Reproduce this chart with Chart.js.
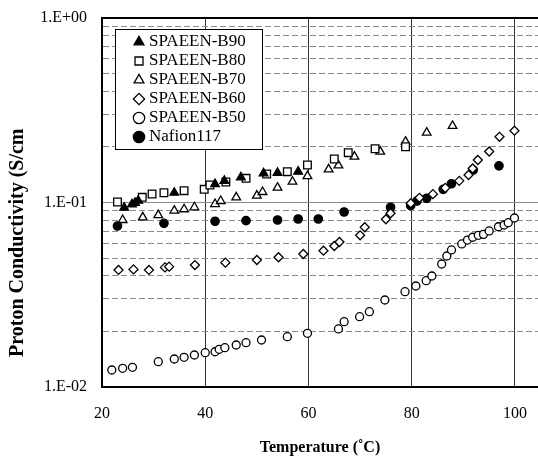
<!DOCTYPE html>
<html><head><meta charset="utf-8">
<script src="https://cdn.jsdelivr.net/npm/chart.js@4"></script>
<style>html,body{margin:0;padding:0;background:#fff;}</style>
</head><body>
<canvas id="c" width="538" height="456"></canvas>
<script>
// ---- data (temperature in °C, conductivity in S/cm) ----
const seriesNames = ['SPAEEN-B90','SPAEEN-B80','SPAEEN-B70','SPAEEN-B60','SPAEEN-B50','Nafion117'];

const b90T = [24.3, 25.8, 26.4, 27.0, 34.0, 41.9, 43.7, 46.9, 51.3, 54.0, 58.0];
const b90S = [0.0937, 0.0978, 0.0997, 0.1023, 0.113, 0.126, 0.131, 0.137, 0.144, 0.145, 0.147];

const b80T = [23.0, 27.8, 29.7, 32.0, 35.9, 39.8, 40.9, 44.0, 47.9, 51.9, 55.9, 59.8, 65.0, 67.7, 72.9, 78.8];
const b80S = [0.1006, 0.1067, 0.1112, 0.1130, 0.1159, 0.1179, 0.1244, 0.1291, 0.1352, 0.1427, 0.1469, 0.1597, 0.1721, 0.1862, 0.1956, 0.2006];

const b70T = [24.0, 27.9, 30.9, 34.0, 35.9, 37.9, 41.9, 43.0, 46.0, 50.0, 51.1, 54.0, 56.9, 59.8, 63.9, 65.8, 68.9, 73.9, 78.8, 82.9, 87.9];
const b70S = [0.0804, 0.0831, 0.0855, 0.0903, 0.0919, 0.0942, 0.0981, 0.1019, 0.1067, 0.1089, 0.114, 0.1203, 0.1296, 0.1391, 0.1513, 0.159, 0.1772, 0.1886, 0.2136, 0.239, 0.260];

const b60T = [23.2, 26.1, 29.1, 32.2, 33.0, 38.0, 43.9, 50.0, 54.2, 59.0, 62.9, 65.0, 66.0, 70.0, 70.9, 75.0, 75.9, 79.8, 81.5, 84.1, 86.5, 89.2, 91.0, 91.8, 92.8, 95.0, 97.0, 99.9];
const b60S = [0.0431, 0.0434, 0.0431, 0.0445, 0.0449, 0.0458, 0.0472, 0.0488, 0.0505, 0.0526, 0.0548, 0.0581, 0.0611, 0.0664, 0.0734, 0.0811, 0.0874, 0.099, 0.106, 0.111, 0.120, 0.131, 0.141, 0.153, 0.170, 0.189, 0.227, 0.245];

const b50T = [21.9, 24.0, 25.9, 30.9, 34.0, 35.9, 37.9, 40.0, 41.9, 42.7, 43.8, 46.0, 47.9, 50.9, 55.9, 59.8, 65.8, 66.9, 69.9, 71.8, 74.8, 78.7, 80.8, 82.8, 83.9, 85.8, 86.8, 87.7, 89.7, 90.8, 91.8, 92.9, 93.9, 95.0, 96.8, 97.9, 98.7, 99.9];
const b50S = [0.01236, 0.01263, 0.01279, 0.01371, 0.01418, 0.01449, 0.01491, 0.01534, 0.01553, 0.01601, 0.01633, 0.01689, 0.01738, 0.01798, 0.01874, 0.01954, 0.02063, 0.02259, 0.02404, 0.02559, 0.02961, 0.03284, 0.03527, 0.0377, 0.03996, 0.04642, 0.0513, 0.0553, 0.0596, 0.0626, 0.0648, 0.0664, 0.0672, 0.0701, 0.0739, 0.0755, 0.0777, 0.0824];

const nafT = [23.0, 32.0, 41.9, 47.9, 54.0, 58.0, 61.9, 66.9, 75.9, 79.8, 81.0, 82.9, 86.1, 87.7, 91.9, 96.9];
const nafS = [0.0746, 0.0771, 0.0791, 0.0797, 0.0804, 0.0814, 0.0814, 0.0888, 0.0942, 0.0961, 0.1019, 0.1054, 0.1179, 0.1264, 0.150, 0.158];

// ---- axes ----
const xTicks = [20, 40, 60, 80, 100];
const yTickValues = [1, 0.1, 0.01];
const yTickLabels = ['1.E+00', '1.E-01', '1.E-02'];
const yDecades = [0.01, 0.1];
const yMultipliers = [1, 2, 3, 4, 5, 6, 7, 8, 9];

const yGridValues = [];
yDecades.forEach(d => yMultipliers.forEach(m => yGridValues.push(+(d * m).toPrecision(6))));
yGridValues.push(1);

const isMajor = v => yTickValues.some(t => Math.abs(t - v) / t < 1e-6);
const pts = (T, S) => T.map((t, i) => ({x: t, y: S[i]}));

const serif = "'Liberation Serif', 'Times New Roman', serif";

function ds(name, T, S, style, fill, radius) {
  return {
    label: name, data: pts(T, S),
    pointStyle: style, pointRadius: radius, pointHoverRadius: radius,
    pointBackgroundColor: fill, pointBorderColor: '#000', pointBorderWidth: 1.3,
    backgroundColor: fill, borderColor: '#000', borderWidth: 1.3, showLine: false
  };
}

const datasets = [
  ds(seriesNames[0], b90T, b90S, 'triangle', '#000', 5),
  ds(seriesNames[1], b80T, b80S, 'rect', '#fff', 5.4),
  ds(seriesNames[2], b70T, b70S, 'triangle', '#fff', 5),
  ds(seriesNames[3], b60T, b60S, 'rectRot', '#fff', 4.5),
  ds(seriesNames[4], b50T, b50S, 'circle', '#fff', 4),
  ds(seriesNames[5], nafT, nafS, 'circle', '#000', 4.2)
];

const legendBoxPlugin = {
  id: 'legendBox',
  afterLayout(chart) {
    const lg = chart.legend, ca = chart.chartArea;
    if (!lg) return;
    const bx = ca.left + 13, by = ca.top + 11, bw = 147, bh = 120;
    lg._box = {x: bx, y: by, w: bw, h: bh};
    lg.left = bx + 20.5; lg.top = by + 2.5;
    lg.right = bx + bw; lg.bottom = by + bh;
    lg.width = lg.right - lg.left; lg.height = lg.bottom - lg.top;
    if (!lg._wrapped) {
      lg.draw = function () {
        const c = this.ctx, b = this._box;
        c.save();
        c.fillStyle = '#fff';
        c.fillRect(b.x, b.y, b.w, b.h);
        c.strokeStyle = '#000';
        c.lineWidth = 1;
        c.strokeRect(Math.round(b.x) + 0.5, Math.round(b.y) + 0.5, b.w, b.h);
        c.restore();
        if (this.options.display) this._draw();
      };
      lg._wrapped = true;
    }
  }
};

new Chart(document.getElementById('c'), {
  type: 'scatter',
  data: { datasets },
  options: {
    responsive: false, animation: false,
    layout: { autoPadding: false, padding: { top: 18, right: 0, bottom: 0, left: 0 } },
    plugins: {
      tooltip: { enabled: false },
      legend: {
        position: 'chartArea', align: 'start',
        labels: {
          usePointStyle: true, boxWidth: 3, boxHeight: 8, padding: 2,
          color: '#000', font: { family: serif, size: 17 }
        }
      }
    },
    scales: {
      x: {
        type: 'linear', position: 'bottom', min: 20, max: 104.46,
        afterBuildTicks: s => { s.ticks = xTicks.map(v => ({value: v})); },
        afterFit: s => { s.height = 69; s.paddingLeft = 0; s.paddingRight = 0; },
        ticks: { autoSkip: false, maxRotation: 0, padding: 17, color: '#000', font: { family: serif, size: 16 } },
        grid: { drawTicks: false, lineWidth: 1, color: c => (c.tick && c.tick.value === 20) ? 'rgba(0,0,0,0)' : '#333' },
        border: { display: true, color: '#000', width: 2 },
        title: { display: true, text: 'Temperature (˚C)', color: '#000', font: { family: serif, size: 16, weight: 'bold', lineHeight: 1 }, padding: { top: 0, bottom: 0 } }
      },
      y: {
        type: 'logarithmic', position: 'left', min: 0.01, max: 1,
        afterBuildTicks: s => { s.ticks = yGridValues.map(v => ({value: v})); },
        afterFit: s => { s.width = 102; s.paddingTop = 0; s.paddingBottom = 0; },
        ticks: {
          autoSkip: false, padding: 15, color: '#000', font: { family: serif, size: 16 },
          callback: v => { const i = yTickValues.findIndex(t => Math.abs(t - v) / t < 1e-6); return i >= 0 ? yTickLabels[i] : ''; }
        },
        grid: { drawTicks: false, lineWidth: 1, color: c => (c.tick && isMajor(c.tick.value)) ? 'rgba(0,0,0,0)' : '#8a8a8a' },
        border: { display: true, color: '#000', width: 2, dash: [6, 3] },
        title: { display: true, align: 'start', text: '      Proton Conductivity (S/cm', color: '#000', font: { family: serif, size: 20, weight: 'bold' }, padding: { top: 6, bottom: 0 } }
      },
      y2: {
        type: 'logarithmic', position: 'right', min: 0.01, max: 1,
        afterBuildTicks: s => { s.ticks = [{value: 0.1}, {value: 1}]; },
        afterFit: s => { s.width = 0; s.paddingTop = 0; s.paddingBottom = 0; },
        ticks: { display: false },
        grid: {
          drawTicks: false,
          color: c => (c.tick && c.tick.value === 1) ? '#000' : '#8a8a8a',
          lineWidth: c => (c.tick && c.tick.value === 1) ? 2 : 1
        },
        border: { display: false }
      }
    }
  },
  plugins: [legendBoxPlugin]
});
</script>
</body></html>
